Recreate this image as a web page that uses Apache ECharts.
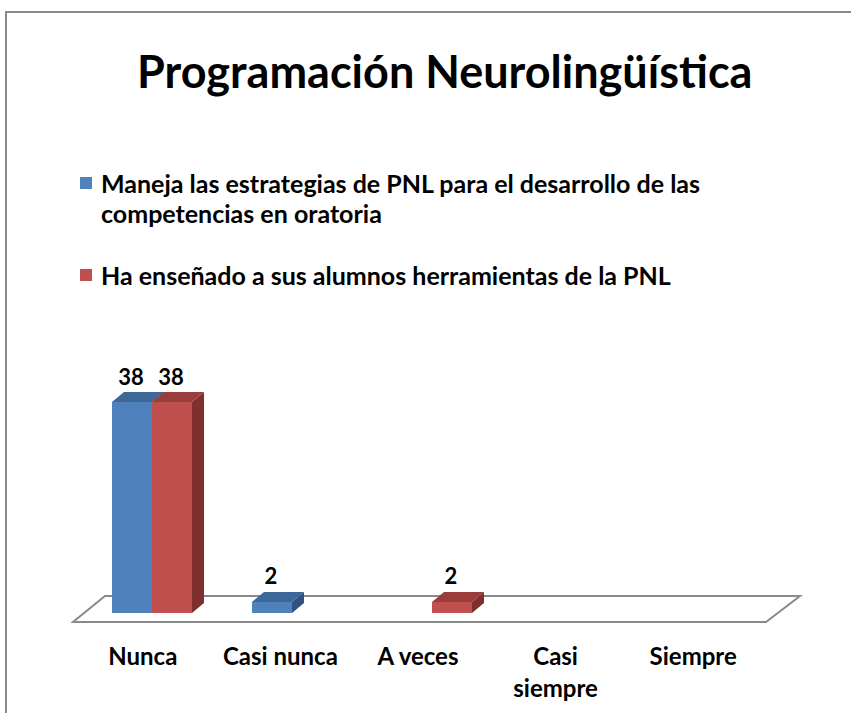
<!DOCTYPE html>
<html>
<head>
<meta charset="utf-8">
<script src="https://cdn.jsdelivr.net/npm/echarts@6/dist/echarts.min.js"></script>
<style>
  html, body { margin: 0; padding: 0; background: #fff; }
  #main { width: 851px; height: 713px; }
</style>
</head>
<body>
<div id="main"></div>
<script>
// datos del grafico
const categories = ['Nunca', 'Casi nunca', 'A veces', 'Casi siempre', 'Siempre'];
const tickLabels = ['Nunca', 'Casi nunca', 'A veces', 'Casi\nsiempre', 'Siempre'];
const seriesNames = [
  'Maneja las estrategias de PNL para el desarrollo de las competencias en oratoria',
  'Ha enseñado a sus alumnos herramientas de la PNL'
];
const manejaValues = [38, 2, 0, 0, 0];
const ensenadoValues = [38, 0, 2, 0, 0];

const FONT = 'Lato, "Open Sans", sans-serif';
const BAR_W = 40;   // ancho de la cara frontal
const DX = 12;      // profundidad 3D
const DY = -10;

// barra 3D: cara frontal + tapa + lateral, side = -1 (izq) o 1 (der)
function bar3d(side, front, top, dark) {
  return function (params, api) {
    const v = api.value(1);
    if (!v) return null;
    const base = api.coord([api.value(0), 0]);
    const head = api.coord([api.value(0), v]);
    const x0 = side < 0 ? base[0] - BAR_W : base[0];
    const x1 = x0 + BAR_W;
    const yT = head[1];
    const yB = base[1];
    return {
      type: 'group',
      children: [
        { type: 'polygon', shape: { points: [[x1, yT], [x1 + DX, yT + DY], [x1 + DX, yB + DY], [x1, yB]] }, style: { fill: dark } },
        { type: 'polygon', shape: { points: [[x0, yT], [x1, yT], [x1 + DX, yT + DY], [x0 + DX, yT + DY]] }, style: { fill: top } },
        { type: 'rect', shape: { x: x0, y: yT, width: BAR_W, height: yB - yT }, style: { fill: front } },
        { type: 'text', style: { text: String(v), x: x0 + BAR_W / 2 - 1, y: yT + DY - 5, align: 'center', verticalAlign: 'bottom',
          font: 'bold 22px ' + FONT, fill: '#000' } }
      ]
    };
  };
}

var myChart = echarts.init(document.getElementById('main'), null, { renderer: 'svg' });

var option = {
  backgroundColor: '#fff',
  animation: false,
  color: ['#4F81BD', '#C0504D'],
  title: {
    text: 'Programación Neurolingüística',
    left: 137,
    top: 48,
    padding: 0,
    textStyle: { fontFamily: FONT, fontWeight: 'bold', fontSize: 45, color: '#000' }
  },
  legend: {
    orient: 'vertical',
    left: 80,
    top: 168,
    padding: 0,
    itemGap: 26,
    itemWidth: 16,
    itemHeight: 42,
    itemStyle: { borderWidth: 0 },
    data: [
      { name: seriesNames[0], icon: 'path://M0,0H12V12H0Z M0,42H16' },
      { name: seriesNames[1], icon: 'path://M0,0H16 M0,15H12V27H0Z M0,42H16' }
    ],
    textStyle: {
      fontFamily: FONT, fontWeight: 'bold', fontSize: 25, color: '#000',
      lineHeight: 30, width: 660, overflow: 'break'
    }
  },
  graphic: [
    { type: 'rect', z: -10, shape: { x: 6, y: 12, width: 900, height: 800 },
      style: { fill: 'none', stroke: '#8a8a8a', lineWidth: 2 } },
    { type: 'polygon', z: -5, shape: { points: [[73, 622], [766, 622], [800, 596], [105, 596]] },
      style: { fill: '#fff', stroke: '#8a8a8a', lineWidth: 2 } }
  ],
  grid: [
    { left: 82, width: 700, top: 391, height: 222 },
    { left: 74, width: 688, top: 391, height: 222 }
  ],
  xAxis: [
    { type: 'category', gridIndex: 0, data: categories, show: false },
    { type: 'category', gridIndex: 1, data: tickLabels,
      axisLine: { show: false }, axisTick: { show: false }, splitLine: { show: false },
      axisLabel: { interval: 0, margin: 26, color: '#000', fontFamily: FONT, fontWeight: 'bold', fontSize: 24, lineHeight: 32 } }
  ],
  yAxis: [
    { type: 'value', gridIndex: 0, min: 0, max: 40, show: false },
    { type: 'value', gridIndex: 1, min: 0, max: 40, show: false }
  ],
  series: [
    {
      name: seriesNames[0], type: 'custom', xAxisIndex: 0, yAxisIndex: 0, z: 3,
      itemStyle: { color: '#4F81BD' },
      encode: { x: 0, y: 1 },
      renderItem: bar3d(-1, '#4F81BD', '#3D6699', '#2F5280'),
      data: manejaValues.map((v, i) => [i, v])
    },
    {
      name: seriesNames[1], type: 'custom', xAxisIndex: 0, yAxisIndex: 0, z: 4,
      itemStyle: { color: '#C0504D' },
      encode: { x: 0, y: 1 },
      renderItem: bar3d(1, '#C0504D', '#9B3D3B', '#7D302E'),
      data: ensenadoValues.map((v, i) => [i, v])
    }
  ]
};

myChart.setOption(option);
</script>
</body>
</html>
